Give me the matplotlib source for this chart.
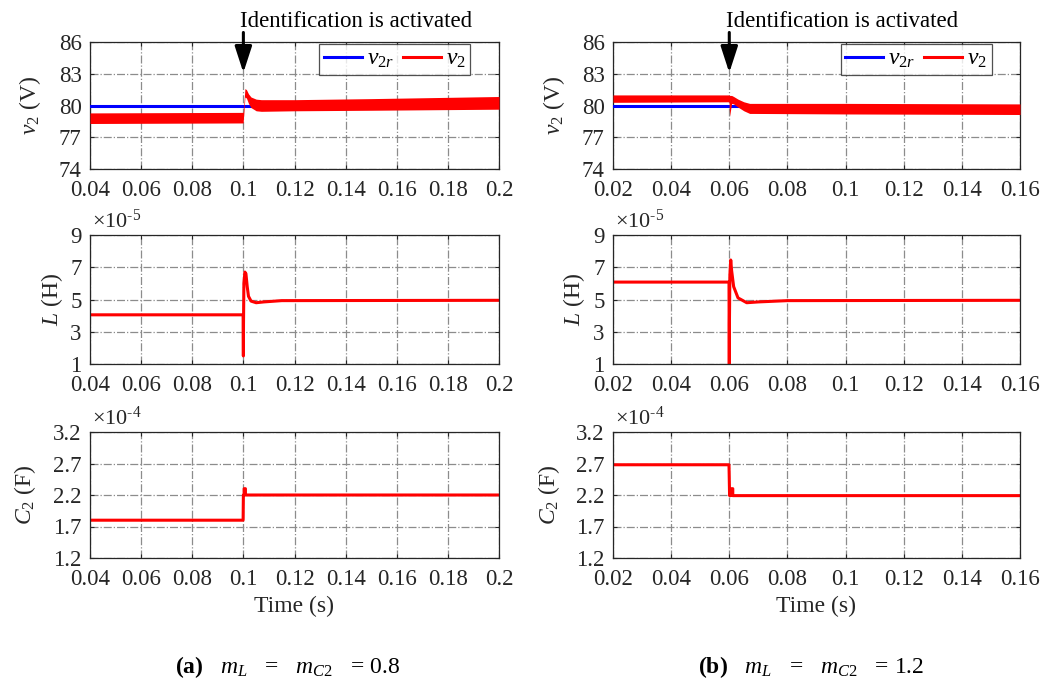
import matplotlib
matplotlib.use("Agg")
import matplotlib.pyplot as plt

plt.rcParams['font.family'] = ['Liberation Serif', 'DejaVu Serif']
plt.rcParams['mathtext.fontset'] = 'custom'
plt.rcParams['mathtext.rm'] = 'Liberation Serif'
plt.rcParams['mathtext.it'] = 'Liberation Serif:italic'
plt.rcParams['mathtext.bf'] = 'Liberation Serif:bold'

# ---- case (a): m_L = m_C2 = 0.8 ----
a_xlim = (0.04, 0.2)
a_xticks = [0.04, 0.06, 0.08, 0.1, 0.12, 0.14, 0.16, 0.18, 0.2]
a_xticklabels = ['0.04', '0.06', '0.08', '0.1', '0.12', '0.14', '0.16', '0.18', '0.2']
a_t_act = 0.1
a_v2r = 80.0
a_t_v = [0.04, 0.0999, 0.1001, 0.1006, 0.1012, 0.102, 0.103, 0.105, 0.107, 0.12, 0.15, 0.2]
a_v_lo = [78.3, 78.35, 79.0, 80.8, 80.7, 80.2, 79.8, 79.5, 79.45, 79.5, 79.55, 79.65]
a_v_hi = [79.3, 79.35, 79.8, 81.6, 81.5, 81.1, 80.8, 80.6, 80.55, 80.55, 80.65, 80.85]
a_t_L = [0.04, 0.0999, 0.1, 0.10005, 0.1002, 0.1006, 0.101, 0.1015, 0.102, 0.103, 0.105, 0.108, 0.115, 0.2]
a_L = [4.05, 4.05, 1.5, 3.5, 6.0, 6.7, 6.6, 5.8, 5.2, 4.9, 4.8, 4.85, 4.93, 4.95]
a_t_C = [0.04, 0.0999, 0.1, 0.1003, 0.1003, 0.1008, 0.1008, 0.2]
a_C = [1.8, 1.8, 2.2, 2.2, 2.3, 2.3, 2.2, 2.2]

# ---- case (b): m_L = m_C2 = 1.2 ----
b_xlim = (0.02, 0.16)
b_xticks = [0.02, 0.04, 0.06, 0.08, 0.1, 0.12, 0.14, 0.16]
b_xticklabels = ['0.02', '0.04', '0.06', '0.08', '0.1', '0.12', '0.14', '0.16']
b_t_act = 0.06
b_v2r = 80.0
b_t_v = [0.02, 0.0599, 0.0601, 0.0608, 0.0615, 0.063, 0.065, 0.067, 0.068, 0.1, 0.16]
b_v_lo = [80.3, 80.35, 79.0, 80.2, 80.15, 79.85, 79.5, 79.25, 79.25, 79.2, 79.15]
b_v_hi = [81.0, 81.0, 80.95, 80.95, 80.85, 80.6, 80.35, 80.2, 80.2, 80.2, 80.15]
b_t_L = [0.02, 0.0599, 0.0600, 0.06005, 0.0602, 0.0605, 0.0608, 0.0615, 0.063, 0.066, 0.07, 0.08, 0.16]
b_L = [6.08, 6.08, 0.5, 3.5, 6.5, 7.45, 6.8, 5.8, 5.1, 4.8, 4.85, 4.93, 4.95]
b_t_C = [0.02, 0.0599, 0.0601, 0.0604, 0.0604, 0.0612, 0.0612, 0.16]
b_C = [2.68, 2.68, 2.19, 2.19, 2.3, 2.3, 2.19, 2.19]

v_ylim = (74, 86)
v_yticks = [74, 77, 80, 83, 86]
L_ylim = (1, 9)
L_yticks = [1, 3, 5, 7, 9]
C_ylim = (1.2, 3.2)
C_yticks = [1.2, 1.7, 2.2, 2.7, 3.2]

fig = plt.figure(figsize=(10.62, 6.82), dpi=100)
W, H = 1062.0, 682.0
INK = '#262626'


def make_ax(x0, x1, y0, y1):
    return fig.add_axes([x0 / W, 1 - y1 / H, (x1 - x0) / W, (y1 - y0) / H])


def style(ax, xlim, xticks, xticklabels, ylim, yticks):
    ax.set_xlim(*xlim)
    ax.set_ylim(*ylim)
    ax.set_xticks(xticks)
    ax.set_xticklabels(xticklabels)
    ax.set_yticks(yticks)
    ax.set_yticklabels([('%g' % v) for v in yticks])
    ax.grid(True, color='#8c8c8c', linestyle='-.', linewidth=0.9)
    ax.tick_params(direction='in', length=3, labelsize=16.5, colors=INK,
                   top=True, right=True)
    ax.tick_params(axis='x', pad=8)
    ax.tick_params(axis='y', pad=6)
    for s in ax.spines.values():
        s.set_color(INK)
        s.set_linewidth(0.9)


def ylab(ax, text, right_px, width_px):
    ax.set_ylabel(text, fontsize=17, color=INK)
    ax.yaxis.set_label_coords(-right_px / width_px, 0.5)


cols = [
    (90, 499, a_xlim, a_xticks, a_xticklabels, a_t_act, a_v2r, a_t_v, a_v_lo, a_v_hi,
     a_t_L, a_L, a_t_C, a_C, '(a)', '0.8', (47, 25, 52)),
    (613, 1020, b_xlim, b_xticks, b_xticklabels, b_t_act, b_v2r, b_t_v, b_v_lo, b_v_hi,
     b_t_L, b_L, b_t_C, b_C, '(b)', '1.2', (46, 26, 51)),
]

for (x0, x1, xlim, xticks, xtl, t_act, v2r, t_v, v_lo, v_hi,
     t_L, Lv, t_C, Cv, tag, mval, lab_off) in cols:
    wpx = x1 - x0
    # voltage
    ax1 = make_ax(x0, x1, 42, 169)
    style(ax1, xlim, xticks, xtl, v_ylim, v_yticks)
    ax1.plot(xlim, [v2r, v2r], color='#0000ff', lw=2.2, label=r'$v_{2r}$', zorder=3)
    ax1.fill_between(t_v, v_lo, v_hi, color='#ff0000', lw=0, zorder=4)
    ax1.plot([], [], color='#ff0000', lw=2.2, label=r'$v_2$')
    leg = ax1.legend(loc='upper right', bbox_to_anchor=(0.93, 0.985), ncol=2,
                     fontsize=17, frameon=True, fancybox=False, handlelength=1.6,
                     handletextpad=0.2, columnspacing=0.4, borderpad=0.2,
                     borderaxespad=0.0)
    leg.get_frame().set_edgecolor(INK)
    leg.get_frame().set_linewidth(0.9)
    ylab(ax1, r'$v_2$ (V)', lab_off[0], wpx)
    ax1.annotate('', xy=(t_act, 83.1), xytext=(t_act, 86.9), annotation_clip=False,
                 arrowprops=dict(arrowstyle='-|>,head_width=0.26,head_length=0.8',
                                 color='k', lw=2.2, mutation_scale=20,
                                 shrinkA=0, shrinkB=0))
    ax1.text(t_act - 0.0012 * (xlim[1] - xlim[0]) / 0.16, 87.95, 'Identification is activated',
             ha='left', va='center', fontsize=16.5, color='k', clip_on=False)

    # inductance
    ax2 = make_ax(x0, x1, 235, 364)
    style(ax2, xlim, xticks, xtl, L_ylim, L_yticks)
    ax2.plot(t_L, Lv, color='#ff0000', lw=2.2, clip_on=True)
    ylab(ax2, r'$L$ (H)', lab_off[1], wpx)
    ax2.text(0.005, 1.02, r'$\times10^{\text{-}5}$', transform=ax2.transAxes,
             fontsize=16, color=INK, ha='left', va='bottom')

    # capacitance
    ax3 = make_ax(x0, x1, 432, 558)
    style(ax3, xlim, xticks, xtl, C_ylim, C_yticks)
    ax3.plot(t_C, Cv, color='#ff0000', lw=2.2)
    ylab(ax3, r'$C_2$ (F)', lab_off[2], wpx)
    ax3.text(0.005, 1.02, r'$\times10^{\text{-}4}$', transform=ax3.transAxes,
             fontsize=16, color=INK, ha='left', va='bottom')
    ax3.set_xlabel('Time (s)', fontsize=17, color=INK, labelpad=4)

    # caption
    cx = x0 + 85
    fig.text(cx / W, 1 - 667 / H, r'$\mathbf{' + tag + r'}$   $m_L$   =   $m_{C2}$   = ' + mval,
             fontsize=17, ha='left', va='center', color='k')

fig.savefig('out.png', dpi=100)
